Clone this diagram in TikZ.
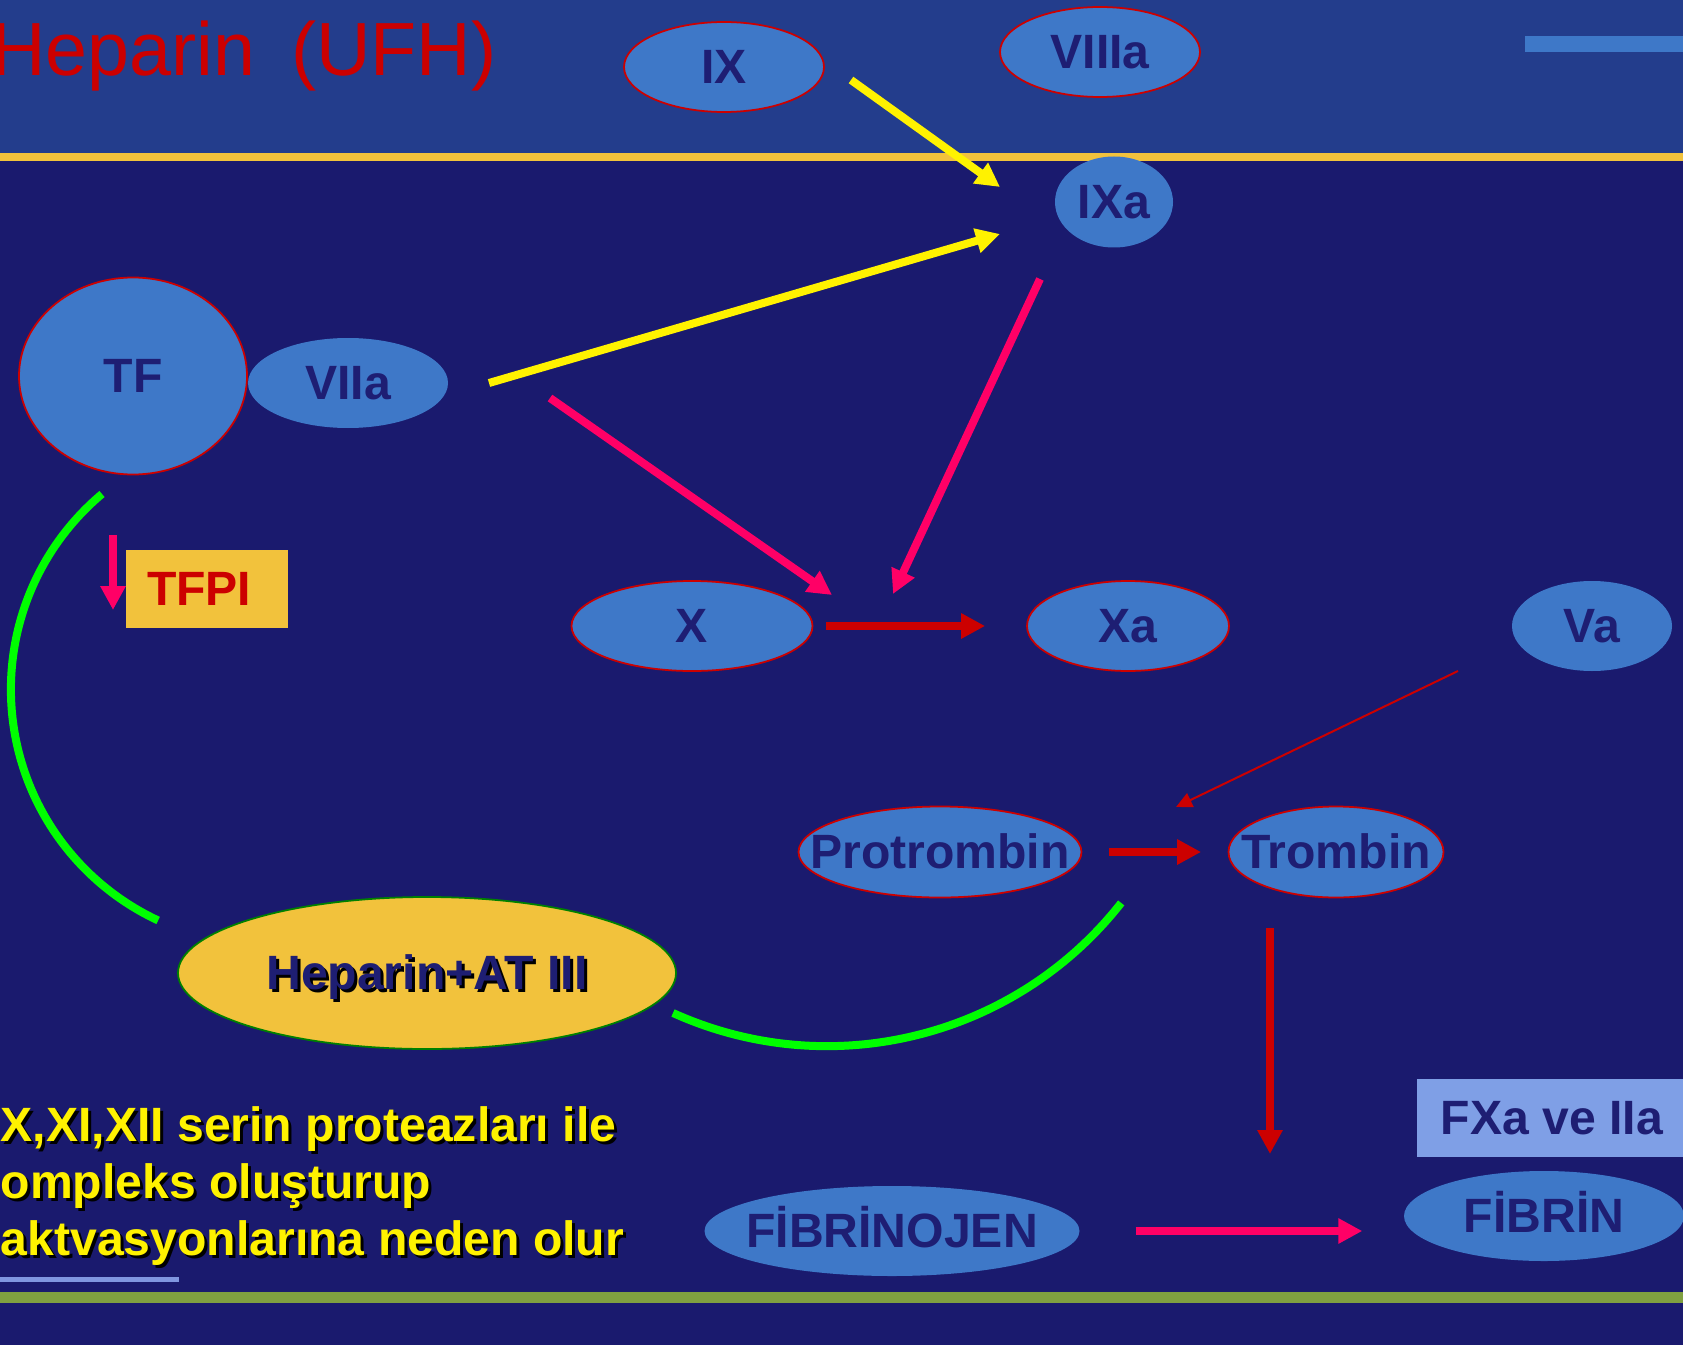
\documentclass[tikz,border=0pt]{standalone}
\usepackage{fontspec}
\setmainfont{Liberation Sans}
\usepackage{xcolor}
\usepackage{tikz}
\usetikzlibrary{arrows.meta,shapes.geometric,calc}
\definecolor{hepbgtop}{HTML}{233D8C}
\definecolor{hepbg}{HTML}{1A1A6E}
\definecolor{hepgold}{HTML}{F2C23C}
\definecolor{hepcell}{HTML}{3E78C8}
\definecolor{hepnavy}{HTML}{1E1E73}
\definecolor{hepred}{HTML}{CC0000}
\definecolor{heppink}{HTML}{FF0066}
\definecolor{heplav}{HTML}{8096E0}
\definecolor{hepbox}{HTML}{7F9FE6}
\definecolor{hepolive}{HTML}{80A040}
\definecolor{hepgreen}{HTML}{00FF00}
\newcommand{\labfont}{\fontsize{13.7}{16.2}\selectfont\bfseries}
\newcommand{\lab}[1]{\makebox[0pt]{\smash{#1}\vphantom{X}}}
\newcommand{\dropsh}[1]{\makebox[0pt][l]{\kern0.3mm\raisebox{-0.3mm}{\color{black}#1}}#1}
\tikzset{
  fac/.style={ellipse,fill=hepcell,text=hepnavy,font=\labfont,inner sep=0pt,minimum height=9mm},
  facr/.style={fac,draw=hepred,line width=0.5pt},
  tag/.style={rectangle,font=\labfont,inner sep=0pt,minimum height=7.8mm},
  ar/.style={-{Triangle[length=2.4mm,width=2.4mm]},line width=0.8mm},
  arthin/.style={-{Triangle[length=1.6mm,width=1.5mm]},line width=0.2mm,draw=hepred},
  inhib/.style={draw=hepgreen,line width=0.8mm},
}
\begin{document}
\begin{tikzpicture}
\useasboundingbox (0,0) rectangle (16.83,13.44);
% slide background
\fill[hepbg] (-0.2,-0.2) rectangle (17.0,13.6);
\fill[hepbgtop] (-0.2,11.91) rectangle (17.0,13.6);
\fill[hepgold] (-0.2,11.83) rectangle (17.0,11.91);
\fill[hepcell] (15.25,12.92) rectangle (17.0,13.08);
\fill[hepolive] (-0.2,0.41) rectangle (17.0,0.52);
\draw[heplav,line width=0.5mm] (-0.2,0.65) -- (1.79,0.65);
% title
\node[anchor=base east,text=hepred,font=\fontsize{21.45}{24}\selectfont,inner sep=0pt] (title) at (4.97,12.68) {Heparin\hspace{0.2em} (UFH)};
% factors
\node[facr,minimum width=20mm] (IX) at (7.24,12.77) {\lab{IX}};
\node[facr,minimum width=20mm] (VIIIa) at (11.00,12.92) {\lab{VIIIa}};
\node[fac,minimum width=11.8mm,minimum height=9.1mm] (IXa) at (11.14,11.42) {\lab{IXa}};
\node[facr,minimum width=22.8mm,minimum height=19.7mm] (TF) at (1.33,9.68) {\lab{TF}};
\node[fac,minimum width=20mm] (VIIa) at (3.48,9.61) {\lab{VIIa}};
\node[tag,fill=hepgold,text=hepred,minimum width=16.2mm] (TFPI) at (2.07,7.55) {\makebox[12mm][l]{TFPI}};
\node[facr,minimum width=24.1mm] (X) at (6.92,7.18) {\lab{X}};
\node[facr,minimum width=20.2mm] (Xa) at (11.28,7.18) {\lab{Xa}};
\node[fac,minimum width=16mm] (Va) at (15.92,7.18) {\lab{Va}};
\node[facr,minimum width=28.3mm,minimum height=9.1mm] (Pro) at (9.40,4.92) {\lab{Protrombin}};
\node[facr,minimum width=21.5mm,minimum height=9.1mm] (Trom) at (13.36,4.92) {\lab{Trombin}};
\node[fac,fill=hepgold,draw=green!50!black,line width=0.5pt,minimum width=49.8mm,minimum height=15.2mm] (HepAT) at (4.27,3.71) {\lab{\dropsh{Heparin+AT III}}};
\node[fac,minimum width=37.5mm] (Fbg) at (8.92,1.13) {\lab{FİBRİNOJEN}};
\node[fac,minimum width=28mm] (Fib) at (15.44,1.28) {\lab{FİBRİN}};
\node[tag,fill=hepbox,text=hepnavy,minimum width=27mm] (FXa) at (15.52,2.26) {FXa ve IIa};
% note (base = last line)
\node[anchor=base west,align=left,text=yellow,font=\labfont,inner sep=0pt] (note) at (0,0.89)
 {\dropsh{X,XI,XII serin proteazları ile}\\\dropsh{ompleks oluşturup}\\\dropsh{aktvasyonlarına neden olur}};
% free arrow ends
\coordinate (ixout) at (8.51,12.64);
\coordinate (ixain1) at (10.00,11.57);
\coordinate (viiaout1) at (4.89,9.61);
\coordinate (ixain2) at (10.00,11.10);
\coordinate (viiaout2) at (5.50,9.46);
\coordinate (xin1) at (8.32,7.49);
\coordinate (ixaout) at (10.40,10.65);
\coordinate (xin2) at (8.93,7.50);
\coordinate (vaout) at (14.58,6.73);
\coordinate (proin) at (11.76,5.37);
\coordinate (tromout) at (12.70,4.16);
\coordinate (fibin) at (12.70,1.90);
\coordinate (tfout) at (1.13,8.09);
\coordinate (tfpiin) at (1.13,7.34);
% arrows
\draw[ar,yellow] (ixout) -- (ixain1);
\draw[ar,yellow] (viiaout1) -- (ixain2);
\draw[ar,heppink] (viiaout2) -- (xin1);
\draw[ar,heppink] (ixaout) -- (xin2);
\draw[ar,hepred,shorten <=1.3mm,shorten >=4.1mm] (X.east) -- (Xa.west);
\draw[arthin] (vaout) -- (proin);
\draw[ar,hepred,shorten <=2.7mm,shorten >=2.65mm] (Pro.east) -- (Trom.west);
\draw[ar,hepred] (tromout) -- (fibin);
\draw[ar,heppink,shorten <=5.55mm,shorten >=4.1mm] (Fbg.east) -- (Fbg.east -| Fib.west);
\draw[ar,heppink] (tfout) -- (tfpiin);
% heparin arcs
\draw[inhib] (1.02,8.50) arc[start angle=130,end angle=245,radius=2.55];
\draw[inhib] (6.73,3.31) arc[start angle=245.7,end angle=321.9,radius=3.74];
\end{tikzpicture}
\end{document}
